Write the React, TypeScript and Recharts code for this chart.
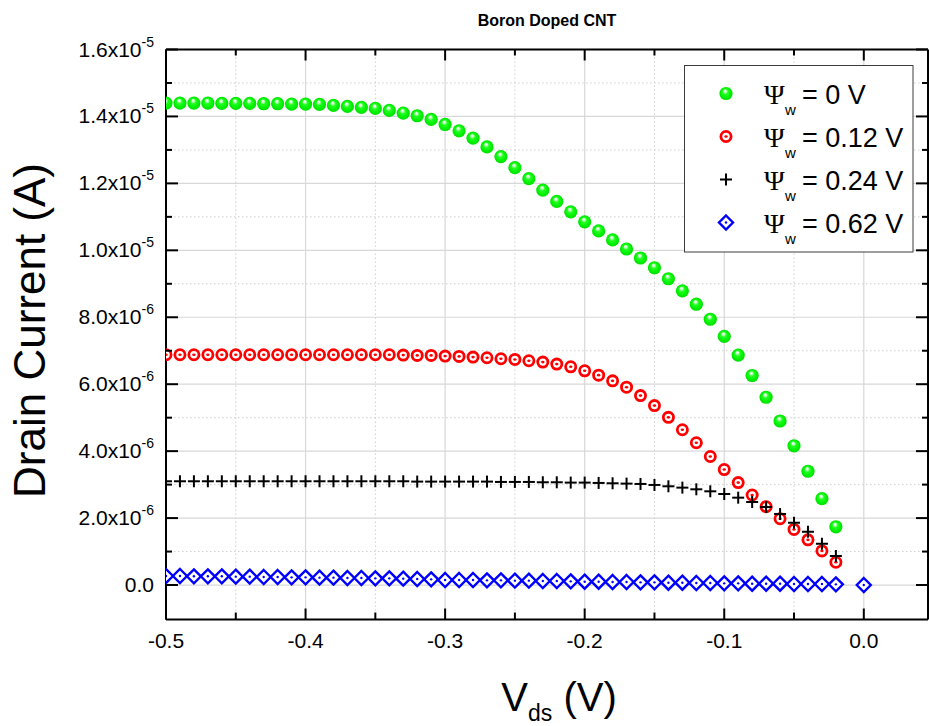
import React from 'react';
import { ScatterChart, Scatter, XAxis, YAxis, CartesianGrid, Legend } from 'recharts';

const FONT = '"Liberation Sans", Arial, Helvetica, sans-serif';
const SERIF = '"Liberation Serif", "Times New Roman", serif';

// V_ds values (V)
const vdsValues = [
  -0.5, -0.49, -0.48, -0.47, -0.46, -0.45, -0.44, -0.43, -0.42, -0.41,
  -0.4, -0.39, -0.38, -0.37, -0.36, -0.35, -0.34, -0.33, -0.32, -0.31,
  -0.3, -0.29, -0.28, -0.27, -0.26, -0.25, -0.24, -0.23, -0.22, -0.21,
  -0.2, -0.19, -0.18, -0.17, -0.16, -0.15, -0.14, -0.13, -0.12, -0.11,
  -0.1, -0.09, -0.08, -0.07, -0.06, -0.05, -0.04, -0.03, -0.02,
];
const vdsBlue = [...vdsValues, 0.0];

// Drain current (A)
const idPsi0 = [
  14.40e-6, 14.40e-6, 14.40e-6, 14.40e-6, 14.39e-6, 14.39e-6, 14.39e-6, 14.38e-6, 14.38e-6, 14.37e-6,
  14.37e-6, 14.36e-6, 14.33e-6, 14.30e-6, 14.27e-6, 14.24e-6, 14.18e-6, 14.10e-6, 14.02e-6, 13.91e-6,
  13.76e-6, 13.57e-6, 13.35e-6, 13.09e-6, 12.80e-6, 12.47e-6, 12.14e-6, 11.80e-6, 11.46e-6, 11.15e-6,
  10.85e-6, 10.58e-6, 10.31e-6, 10.04e-6, 9.77e-6, 9.48e-6, 9.15e-6, 8.79e-6, 8.39e-6, 7.94e-6,
  7.43e-6, 6.87e-6, 6.26e-6, 5.61e-6, 4.90e-6, 4.16e-6, 3.40e-6, 2.58e-6, 1.74e-6,
];
const idPsi012 = [
  6.88e-6, 6.88e-6, 6.88e-6, 6.88e-6, 6.88e-6, 6.88e-6, 6.88e-6, 6.88e-6, 6.88e-6, 6.88e-6,
  6.88e-6, 6.88e-6, 6.88e-6, 6.88e-6, 6.88e-6, 6.88e-6, 6.88e-6, 6.87e-6, 6.86e-6, 6.86e-6,
  6.84e-6, 6.83e-6, 6.81e-6, 6.79e-6, 6.76e-6, 6.74e-6, 6.70e-6, 6.66e-6, 6.60e-6, 6.52e-6,
  6.40e-6, 6.27e-6, 6.10e-6, 5.91e-6, 5.66e-6, 5.36e-6, 5.01e-6, 4.64e-6, 4.25e-6, 3.84e-6,
  3.45e-6, 3.06e-6, 2.69e-6, 2.34e-6, 1.98e-6, 1.66e-6, 1.35e-6, 1.02e-6, 0.68e-6,
];
const idPsi024 = [
  3.10e-6, 3.10e-6, 3.10e-6, 3.10e-6, 3.10e-6, 3.10e-6, 3.10e-6, 3.10e-6, 3.10e-6, 3.10e-6,
  3.10e-6, 3.10e-6, 3.10e-6, 3.10e-6, 3.10e-6, 3.10e-6, 3.10e-6, 3.10e-6, 3.09e-6, 3.09e-6,
  3.09e-6, 3.09e-6, 3.09e-6, 3.09e-6, 3.08e-6, 3.08e-6, 3.08e-6, 3.07e-6, 3.07e-6, 3.06e-6,
  3.06e-6, 3.05e-6, 3.04e-6, 3.03e-6, 3.02e-6, 2.99e-6, 2.95e-6, 2.91e-6, 2.86e-6, 2.80e-6,
  2.72e-6, 2.61e-6, 2.48e-6, 2.33e-6, 2.12e-6, 1.86e-6, 1.59e-6, 1.23e-6, 0.87e-6,
];
const idPsi062 = [
  0.27e-6, 0.27e-6, 0.26e-6, 0.26e-6, 0.26e-6, 0.25e-6, 0.25e-6, 0.24e-6, 0.24e-6, 0.23e-6,
  0.23e-6, 0.22e-6, 0.22e-6, 0.21e-6, 0.21e-6, 0.20e-6, 0.20e-6, 0.19e-6, 0.18e-6, 0.17e-6,
  0.15e-6, 0.15e-6, 0.15e-6, 0.14e-6, 0.14e-6, 0.13e-6, 0.13e-6, 0.12e-6, 0.12e-6, 0.11e-6,
  0.10e-6, 0.10e-6, 0.09e-6, 0.09e-6, 0.08e-6, 0.08e-6, 0.07e-6, 0.07e-6, 0.06e-6, 0.06e-6,
  0.05e-6, 0.05e-6, 0.04e-6, 0.04e-6, 0.04e-6, 0.03e-6, 0.03e-6, 0.03e-6, 0.02e-6, 0.0,
];

const legendValues = ['0', '0.12', '0.24', '0.62'];
const seriesNames = ['Ψw = 0 V', 'Ψw = 0.12 V', 'Ψw = 0.24 V', 'Ψw = 0.62 V'];

// Axes / ticks
const xDomain = [-0.5, 0.046];
const yDomain = [-1.03e-6, 1.6e-5];
const xTicks = [-0.5, -0.45, -0.4, -0.35, -0.3, -0.25, -0.2, -0.15, -0.1, -0.05, 0];
const xMajor = [-0.5, -0.4, -0.3, -0.2, -0.1, 0];
const xMajorLabels = ['-0.5', '-0.4', '-0.3', '-0.2', '-0.1', '0.0'];
const xMinorGrid = [-0.45, -0.35, -0.25, -0.15, -0.05];
const xMajorGrid = [-0.4, -0.3, -0.2, -0.1, 0];
const yTicks = [0, 1e-6, 2e-6, 3e-6, 4e-6, 5e-6, 6e-6, 7e-6, 8e-6, 9e-6, 10e-6, 11e-6, 12e-6, 13e-6, 14e-6, 15e-6, 16e-6];
const yMajor = [0, 2e-6, 4e-6, 6e-6, 8e-6, 10e-6, 12e-6, 14e-6, 16e-6];
const yMajorMantissa = ['0.0', '2.0', '4.0', '6.0', '8.0', '1.0', '1.2', '1.4', '1.6'];
const yMajorExponent = ['', '-6', '-6', '-6', '-6', '-5', '-5', '-5', '-5'];
const yMajorGrid = [0, 2e-6, 4e-6, 6e-6, 8e-6, 10e-6, 12e-6, 14e-6];
const yMinorGrid = [1e-6, 3e-6, 5e-6, 7e-6, 9e-6, 11e-6, 13e-6, 15e-6];

const toPoints = (xs: number[], ys: number[]) => xs.map((x, i) => ({ x, y: ys[i] }));
const dataPsi0 = toPoints(vdsValues, idPsi0);
const dataPsi012 = toPoints(vdsValues, idPsi012);
const dataPsi024 = toPoints(vdsValues, idPsi024);
const dataPsi062 = toPoints(vdsBlue, idPsi062);

const findIdx = (arr: number[], v: number, tol: number) => arr.findIndex((m) => Math.abs(m - v) < tol);

// Markers
const SphereDefs = ({ id }: { id: string }) => (
  <defs>
    <radialGradient id={id} cx="50%" cy="50%" r="50%" fx="42%" fy="28%">
      <stop offset="0%" stopColor="#ffffff" />
      <stop offset="18%" stopColor="#ccffcc" />
      <stop offset="40%" stopColor="#22ff22" />
      <stop offset="80%" stopColor="#00ee00" />
      <stop offset="100%" stopColor="#00dd00" />
    </radialGradient>
  </defs>
);
const Sphere = ({ cx, cy, gid }: any) => (
  <g>
    <SphereDefs id={gid} />
    <circle cx={cx} cy={cy} r={6.6} fill={`url(#${gid})`} />
  </g>
);
const Ring = ({ cx, cy }: any) => (
  <g>
    <circle cx={cx} cy={cy} r={5.1} fill="#ffffff" stroke="#ff0000" strokeWidth={2.8} />
    <ellipse cx={cx} cy={cy} rx={1.7} ry={1.3} fill="#ff0000" />
  </g>
);
const Plus = ({ cx, cy }: any) => (
  <g stroke="#000000" strokeWidth={2}>
    <line x1={cx - 6} y1={cy} x2={cx + 6} y2={cy} />
    <line x1={cx} y1={cy - 6} x2={cx} y2={cy + 6} />
  </g>
);
const Diamond = ({ cx, cy }: any) => (
  <g>
    <path d={`M${cx},${cy - 7}L${cx + 7},${cy}L${cx},${cy + 7}L${cx - 7},${cy}Z`} fill="#ffffff" stroke="#0000ff" strokeWidth={2.4} />
    <circle cx={cx} cy={cy} r={1.2} fill="#0000ff" />
  </g>
);

// Ticks
const BottomTick = (props: any) => {
  const { x, y, payload } = props;
  const mi = findIdx(xMajor, payload.value, 1e-9);
  const major = mi >= 0;
  return (
    <g>
      <line x1={x} y1={y} x2={x} y2={y - (major ? 11 : 7)} stroke="#000" strokeWidth={2} />
      {major && (
        <text x={x} y={y + 28.5} textAnchor="middle" fontFamily={FONT} fontSize={21} fill="#000">
          {xMajorLabels[mi]}
        </text>
      )}
    </g>
  );
};
const TopTick = (props: any) => {
  const { x, y, payload } = props;
  const major = findIdx(xMajor, payload.value, 1e-9) >= 0;
  return <line x1={x} y1={y} x2={x} y2={y + (major ? 11 : 6)} stroke="#000" strokeWidth={2} />;
};
const LeftTick = (props: any) => {
  const { x, y, payload } = props;
  const mi = findIdx(yMajor, payload.value, 1e-12);
  const major = mi >= 0;
  return (
    <g>
      <line x1={x} y1={y} x2={x + (major ? 12 : 6)} y2={y} stroke="#000" strokeWidth={2} />
      {major && (
        <text x={x - 12} y={y + 7} textAnchor="end" fontFamily={FONT} fontSize={21} fill="#000">
          {yMajorMantissa[mi]}
          {yMajorExponent[mi] ? 'x10' : ''}
          {yMajorExponent[mi] ? (
            <tspan dy={-10} fontSize={14}>
              {yMajorExponent[mi]}
            </tspan>
          ) : null}
        </text>
      )}
    </g>
  );
};
const RightTick = (props: any) => {
  const { x, y, payload } = props;
  const major = findIdx(yMajor, payload.value, 1e-12) >= 0;
  return <line x1={x} y1={y} x2={x - (major ? 12 : 6)} y2={y} stroke="#000" strokeWidth={2} />;
};

// Labels
const TitleLabel = (props: any) => {
  const vb = props.viewBox || { x: 166, y: 0, width: 762, height: 49 };
  return (
    <text x={vb.x + vb.width / 2} y={26} textAnchor="middle" fontFamily={FONT} fontSize={16} fontWeight="bold" fill="#000">
      Boron Doped CNT
    </text>
  );
};
const XTitle = (props: any) => {
  const vb = props.viewBox || { x: 166, y: 619.5, width: 762, height: 106 };
  return (
    <text x={vb.x + vb.width / 2 + 12} y={vb.y + 91} textAnchor="middle" fontFamily={FONT} fontSize={40} fill="#000">
      V
      <tspan dy={10} fontSize={23}>ds</tspan>
      <tspan dy={-10} fontSize={40}> (V)</tspan>
    </text>
  );
};
const YTitle = (props: any) => {
  const vb = props.viewBox || { x: 0, y: 49.5, width: 166, height: 570 };
  const cx = vb.x + 45;
  const cy = vb.y + vb.height / 2 - 4;
  return (
    <text x={cx} y={cy} transform={`rotate(-90, ${cx}, ${cy})`} textAnchor="middle" fontFamily={FONT} fontSize={44} fill="#000">
      Drain Current (A)
    </text>
  );
};

const LegendBox = () => (
  <svg width={230} height={188} style={{ display: 'block' }}>
    <rect x={0.5} y={0.5} width={228.5} height={186.5} fill="#ffffff" stroke="#3c3c3c" strokeWidth={1} />
    {legendValues.map((val, i) => {
      const cy = 28.5 + i * 43;
      const cx = 42;
      return (
        <g key={val}>
          {i === 0 && <Sphere cx={cx} cy={cy} gid="gSphereLegend" />}
          {i === 1 && <Ring cx={cx} cy={cy} />}
          {i === 2 && <Plus cx={cx} cy={cy} />}
          {i === 3 && <Diamond cx={cx} cy={cy} />}
          <text x={80} y={cy + 10} fontFamily={SERIF} fontSize={28} fill="#000">Ψ</text>
          <text x={101} y={cy + 21} fontFamily={FONT} fontSize={15} fill="#000">w</text>
          <text x={118} y={cy + 10} fontFamily={FONT} fontSize={27} fill="#000">= {val} V</text>
        </g>
      );
    })}
  </svg>
);

export default function App() {
  return (
    <div style={{ position: 'absolute', left: 0, top: 0, width: 929, height: 726, background: '#ffffff' }}>
      <ScatterChart width={929} height={726} margin={{ top: 0, right: 0, bottom: 0, left: 0 }}>
        <CartesianGrid
          stroke="#cfcfcf"
          strokeDasharray="1.5 2.5"
          verticalValues={xMinorGrid}
          horizontalValues={yMinorGrid}
          fill="none"
        />
        <CartesianGrid stroke="#d8d8d8" strokeWidth={1.2} verticalValues={xMajorGrid} horizontalValues={yMajorGrid} fill="none" />
        <XAxis
          xAxisId={0}
          type="number"
          dataKey="x"
          domain={xDomain}
          allowDataOverflow
          ticks={xTicks}
          interval={0}
          tickSize={0}
          tickMargin={0}
          tickLine={false}
          axisLine={{ stroke: '#000', strokeWidth: 2 }}
          height={106.5}
          tick={BottomTick}
          label={XTitle}
        />
        <XAxis
          xAxisId="top"
          orientation="top"
          type="number"
          dataKey="x"
          domain={xDomain}
          allowDataOverflow
          ticks={xTicks}
          interval={0}
          tickSize={0}
          tickMargin={0}
          tickLine={false}
          axisLine={{ stroke: '#000', strokeWidth: 2 }}
          height={49.5}
          tick={TopTick}
          label={TitleLabel}
        />
        <YAxis
          yAxisId={0}
          type="number"
          dataKey="y"
          domain={yDomain}
          allowDataOverflow
          ticks={yTicks}
          interval={0}
          tickSize={0}
          tickMargin={0}
          tickLine={false}
          axisLine={{ stroke: '#000', strokeWidth: 2 }}
          width={166}
          tick={LeftTick}
          label={YTitle}
        />
        <YAxis
          yAxisId="right"
          orientation="right"
          type="number"
          dataKey="y"
          domain={yDomain}
          allowDataOverflow
          ticks={yTicks}
          interval={0}
          tickSize={0}
          tickMargin={0}
          tickLine={false}
          axisLine={{ stroke: '#000', strokeWidth: 2 }}
          width={1}
          tick={RightTick}
        />
        <Legend
          layout="vertical"
          align="center"
          verticalAlign="middle"
          wrapperStyle={{ left: 684, top: 65, width: 230, height: 188, margin: 0, padding: 0, lineHeight: 0 }}
          content={() => <LegendBox />}
        />
        <Scatter name={seriesNames[0]} data={dataPsi0} isAnimationActive={false} shape={(p: any) => <Sphere cx={p.cx} cy={p.cy} gid="gSpherePlot" />} />
        <Scatter name={seriesNames[1]} data={dataPsi012} isAnimationActive={false} shape={(p: any) => <Ring cx={p.cx} cy={p.cy} />} />
        <Scatter name={seriesNames[2]} data={dataPsi024} isAnimationActive={false} shape={(p: any) => <Plus cx={p.cx} cy={p.cy} />} />
        <Scatter name={seriesNames[3]} data={dataPsi062} isAnimationActive={false} shape={(p: any) => <Diamond cx={p.cx} cy={p.cy} />} />
      </ScatterChart>
    </div>
  );
}
